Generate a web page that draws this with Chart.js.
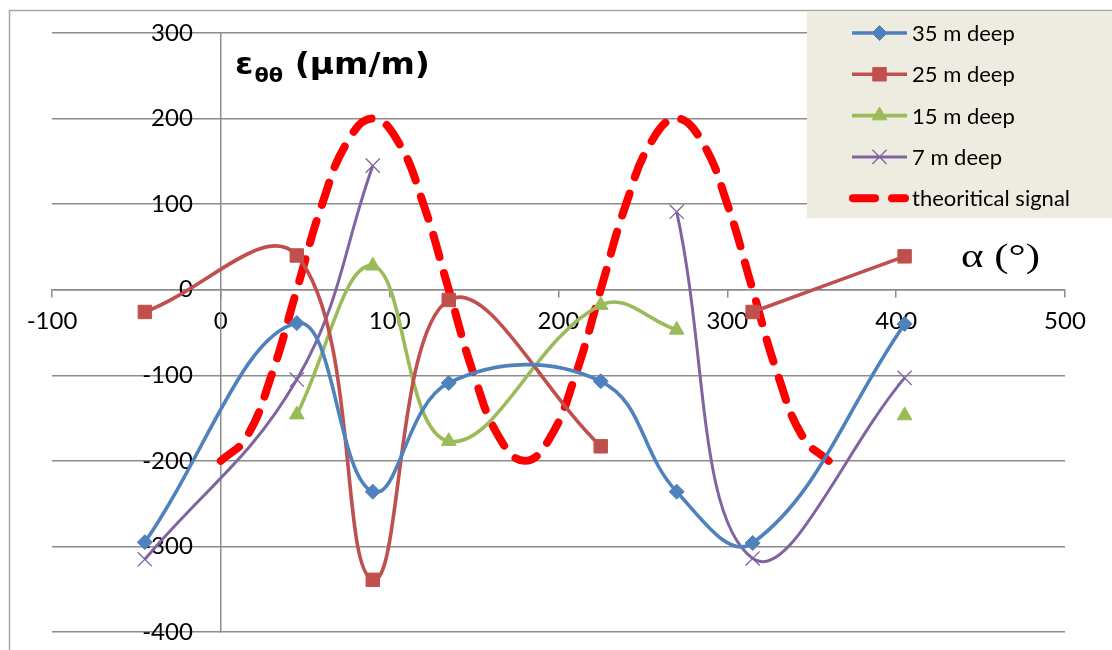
<!DOCTYPE html>
<html><head><meta charset="utf-8">
<script src="https://cdn.jsdelivr.net/npm/chart.js@4.4.1/dist/chart.umd.min.js"></script>
<style>html,body{margin:0;padding:0;background:#fff;}#wrap{position:relative;width:1112px;height:650px;}</style>
</head><body><div id="wrap"><canvas id="c" width="1112" height="650"></canvas></div>
<script>
// ---- data ----
const angles = [-45, 45, 90, 135, 225, 270, 315, 405];
const deep35 = [-295, -39, -236, -109, -107, -236, -296, -40];
const deep25 = [-26, 40, -339, -12, -183, null, -26, 39];
const deep15 = [null, -146, 28, -177, -18, -47, null, -147];
const deep7  = [-315, -105, 145, null, null, 91, -314, -103];
const theoryAngles = [0, 15, 30, 45, 60, 75, 90, 105, 120, 135, 150, 165, 180, 195, 210, 225, 240, 255, 270, 285, 300, 315, 330, 345, 360];
const theoryValues = [-200, -173, -100, 0, 100, 173, 200, 173, 100, 0, -100, -173, -200, -173, -100, 0, 100, 173, 200, 173, 100, 0, -100, -173, -200];
const seriesLabels = ['35 m deep', '25 m deep', '15 m deep', '7 m deep', 'theoritical signal'];
const xTicks = [-100, 0, 100, 200, 300, 400, 500];
const yTicks = [-400, -300, -200, -100, 0, 100, 200, 300];
const yTitle = ['\u03b5', '\u03b8\u03b8', ' (\u03bcm/m)'];
const xTitle = '\u03b1 (\u00b0)';

const pts = (xs, ys) => xs.map((x, i) => ({x: x, y: ys[i]}));

const styles = [
  {color: '#4F81BD', pointStyle: 'rectRot', radius: 7.5, bw: 3.6, pbw: 1},
  {color: '#C0504D', pointStyle: 'rect', radius: 9.5, bw: 3.6, pbw: 1},
  {color: '#9BBB59', pointStyle: 'triangle', radius: 8.5, bw: 3.6, pbw: 1},
  {color: '#8064A2', pointStyle: 'crossRot', radius: 10, bw: 3, pbw: 1.3}
];
const seriesData = [deep35, deep25, deep15, deep7];

const datasets = seriesData.map((vals, i) => ({
  label: seriesLabels[i],
  data: pts(angles, vals),
  borderColor: styles[i].color,
  backgroundColor: styles[i].color,
  borderWidth: styles[i].bw,
  pointStyle: styles[i].pointStyle,
  pointRadius: styles[i].radius,
  pointBorderWidth: styles[i].pbw,
  pointBackgroundColor: styles[i].color,
  pointBorderColor: styles[i].color,
  tension: 0.4,
  spanGaps: false,
  fill: false
}));
datasets.push({
  label: seriesLabels[4],
  data: pts(theoryAngles, theoryValues),
  borderColor: '#FF0000',
  backgroundColor: '#FF0000',
  borderWidth: 8,
  borderDash: [23, 17],
  borderCapStyle: 'round',
  pointRadius: 0,
  tension: 0.45,
  fill: false
});

function drawMarker(ctx, st, x, y) {
  if (Chart.helpers && Chart.helpers.drawPoint) {
    ctx.save();
    ctx.fillStyle = st.color; ctx.strokeStyle = st.color; ctx.lineWidth = st.pbw;
    Chart.helpers.drawPoint(ctx, {pointStyle: st.pointStyle, radius: st.radius, rotation: 0, borderWidth: st.pbw}, x, y);
    ctx.restore();
  }
}

const decor = {
  id: 'decor',
  beforeDraw(chart) {
    const ctx = chart.ctx;
    ctx.save();
    ctx.fillStyle = '#ffffff';
    ctx.fillRect(0, 0, chart.width, chart.height);
    ctx.strokeStyle = '#A6A6A6';
    ctx.lineWidth = 1.5;
    ctx.strokeRect(9.5, 10.5, 1300, 800);
    ctx.restore();
    // shift y tick labels left of the crossing axis
    const ys = chart.scales.y;
    if (ys && ys.getLabelItems) {
      const items = ys.getLabelItems();
      items.forEach(it => {
        if (!it._shifted && it.options && it.options.translation) {
          it.options.translation[0] -= 28;
          it._shifted = true;
        }
      });
    }
  },
  afterDraw(chart) {
    const ctx = chart.ctx;
    ctx.save();
    // legend box
    ctx.fillStyle = '#EEECE1';
    ctx.fillRect(807, 11, 305, 207);
    const rowY = [33, 74.3, 115.6, 156.9, 198.2];
    ctx.font = '22px Lato';
    ctx.textBaseline = 'middle';
    ctx.textAlign = 'left';
    chart.data.datasets.forEach((ds, i) => {
      const y = rowY[i];
      ctx.save();
      ctx.strokeStyle = ds.borderColor;
      ctx.lineWidth = ds.borderWidth;
      if (ds.borderDash) {
        ctx.setLineDash([22, 17]);
        ctx.lineCap = 'round';
        ctx.beginPath(); ctx.moveTo(853, y); ctx.lineTo(905, y); ctx.stroke();
      } else {
        ctx.beginPath(); ctx.moveTo(852, y); ctx.lineTo(907, y); ctx.stroke();
        drawMarker(ctx, styles[i], 879.5, y);
      }
      ctx.restore();
      ctx.fillStyle = '#000';
      ctx.fillText(ds.label, 912, y + 1);
    });
    // y title
    ctx.fillStyle = '#000';
    ctx.textBaseline = 'alphabetic';
    ctx.save();
    ctx.translate(235, 74);
    ctx.scale(1.1, 1);
    ctx.font = 'bold 30px "DejaVu Sans"';
    ctx.fillText(yTitle[0], 0, 0);
    let w0 = ctx.measureText(yTitle[0]).width;
    ctx.font = 'bold 19px "DejaVu Sans"';
    ctx.fillText(yTitle[1], w0 + 1, 8);
    let w1 = ctx.measureText(yTitle[1]).width;
    ctx.font = 'bold 30px "DejaVu Sans"';
    ctx.fillText(yTitle[2], w0 + 1 + w1, 0);
    ctx.restore();
    // x title
    ctx.save();
    ctx.font = '33px "Liberation Serif"';
    const tw = ctx.measureText(xTitle).width;
    ctx.translate(961, 267);
    ctx.scale(79 / tw, 1);
    ctx.fillText(xTitle, 0, 0);
    ctx.restore();
    ctx.restore();
  }
};

new Chart(document.getElementById('c'), {
  type: 'line',
  data: {datasets: datasets},
  plugins: [decor],
  options: {
    responsive: false,
    animation: false,
    devicePixelRatio: 1,
    layout: {padding: {left: 52, right: 47, top: 33, bottom: 18}},
    plugins: {legend: {display: false}, tooltip: {enabled: false}, title: {display: false}},
    scales: {
      x: {
        type: 'linear',
        position: {y: 0},
        min: -100, max: 500,
        afterBuildTicks: s => { s.ticks = xTicks.map(v => ({value: v})); },
        grid: {drawOnChartArea: false, drawTicks: true, tickLength: 7, color: '#8C8C8C', lineWidth: 1.5},
        border: {display: true, color: '#8C8C8C', width: 1.5},
        ticks: {font: {family: 'Lato', size: 24}, color: '#000', padding: 10, maxRotation: 0, autoSkip: false}
      },
      y: {
        type: 'linear',
        position: {x: 0},
        min: -400, max: 300,
        afterBuildTicks: s => { s.ticks = yTicks.map(v => ({value: v})); },
        grid: {drawOnChartArea: true, drawTicks: false, color: '#8C8C8C', lineWidth: 1.5},
        border: {display: true, color: '#8C8C8C', width: 1.5},
        ticks: {font: {family: 'Lato', size: 24}, color: '#000', padding: 0, autoSkip: false}
      }
    }
  }
});
</script>
</body></html>
